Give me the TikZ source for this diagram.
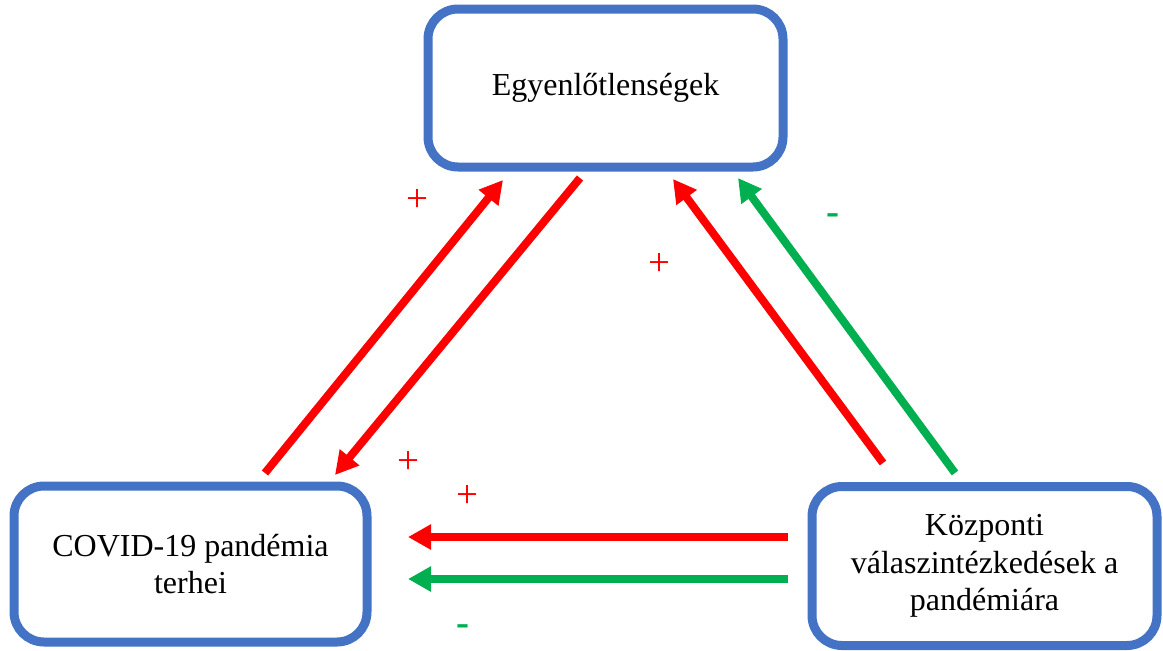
\documentclass[tikz,border=0pt]{standalone}
\usepackage{fontspec}
\setmainfont{Liberation Serif}
\usetikzlibrary{arrows.meta}
\definecolor{boxblue}{HTML}{4472C4}
\definecolor{arred}{HTML}{FF0000}
\definecolor{argreen}{HTML}{00B050}
\tikzset{
  box/.style={draw=boxblue, line width=9pt, rounded corners=30pt, fill=white,
    inner sep=0pt, align=center, font=\fontsize{32}{37.5}\selectfont},
  redarrow/.style={draw=arred, line width=8pt, -{Triangle[length=23pt,width=24pt]}},
  greenarrow/.style={draw=argreen, line width=8pt, -{Triangle[length=23pt,width=24pt]}},
  plus/.style={text=arred, font=\fontsize{39}{39}\selectfont, inner sep=0pt, anchor=base},
  minus/.style={text=argreen, font=\fontsize{39}{39}\selectfont\bfseries, inner sep=0pt, anchor=base}
}
\begin{document}
\begin{tikzpicture}[x=1pt,y=-1pt]
\useasboundingbox (0,0) rectangle (1163,651);
\node[box, minimum width=355pt, minimum height=158pt] (top) at (605.5,88) {Egyenlőtlenségek};
\node[box, minimum width=353pt, minimum height=156pt] (left) at (190.5,564) {COVID-19 pandémia\\terhei};
\node[box, minimum width=345pt, minimum height=159pt] (right) at (984.5,566) {Központi\\válaszintézkedések a\\pandémiára};

\coordinate (a1s) at (265,473); \coordinate (a1e) at (503,180);
\coordinate (a2s) at (580,178); \coordinate (a2e) at (335,475);
\coordinate (a3s) at (883,463); \coordinate (a3e) at (673,179);
\coordinate (a4s) at (955,473); \coordinate (a4e) at (738,178);
\coordinate (a5s) at (788,537); \coordinate (a5e) at (408,537);
\coordinate (a6s) at (788,579); \coordinate (a6e) at (408,579);

\draw[redarrow] (a1s) -- (a1e);
\draw[redarrow] (a2s) -- (a2e);
\draw[redarrow] (a3s) -- (a3e);
\draw[greenarrow] (a4s) -- (a4e);
\draw[redarrow] (a5s) -- (a5e);
\draw[greenarrow] (a6s) -- (a6e);

\node[plus] (p1) at (417,211) {+};
\node[plus] (p2) at (659,275) {+};
\node[minus] (m1) at (832.5,224.5) {-};
\node[plus] (p3) at (408,473) {+};
\node[plus] (p4) at (467,507) {+};
\node[minus] (m2) at (462.5,635) {-};
\end{tikzpicture}
\end{document}
